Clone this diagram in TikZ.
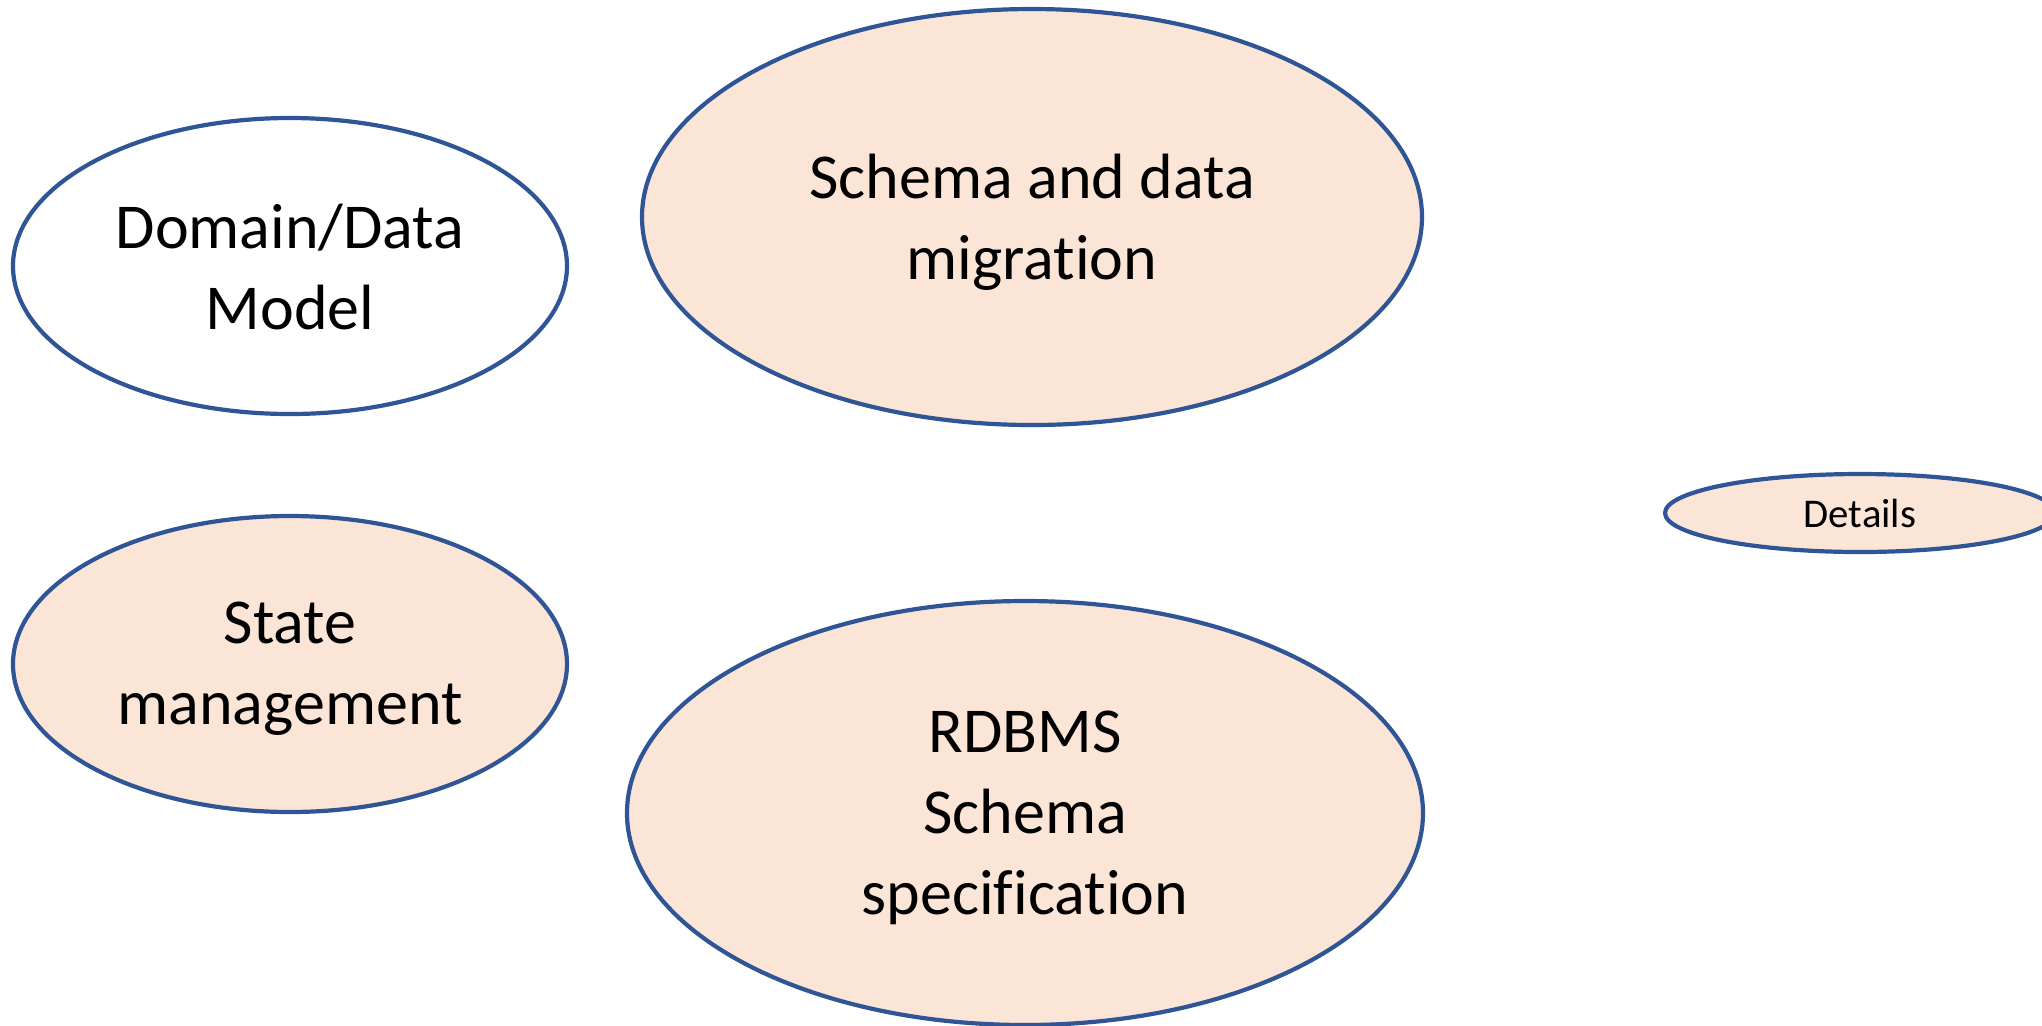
\documentclass[tikz,border=0pt]{standalone}
\usepackage{fontspec}
\setmainfont[Ligatures={NoCommon,NoContextual}]{Carlito}
\usetikzlibrary{shapes.geometric}
\definecolor{rimblue}{HTML}{2F5597}
\definecolor{peach}{HTML}{FBE5D6}
\tikzset{
  bubble/.style={ellipse, draw=rimblue, line width=2.1pt, inner sep=0pt},
  warm/.style={bubble, fill=peach},
  plain/.style={bubble, fill=white},
  caption/.style={align=center, inner sep=0pt, text=black,
    font=\fontsize{32}{40.5}\selectfont, yshift=-2.5pt},
}
\begin{document}
\begin{tikzpicture}[x=0.5pt, y=-0.5pt]
  \useasboundingbox (0,0) rectangle (2042,1025);
  \clip (0,0) rectangle (2042,1025);
  \fill[white] (0,0) rectangle (2042,1025);

  % outlines
  \node[plain, minimum width=277pt, minimum height=148pt] (domain) at (290,266) {};
  \node[warm, minimum width=390pt, minimum height=208pt] (migration) at (1032,217) {};
  \node[warm, minimum width=277pt, minimum height=148pt] (state) at (290,664) {};
  \node[warm, minimum width=398pt, minimum height=212pt] (rdbms) at (1025,813) {};
  \node[warm, minimum width=195pt, minimum height=39pt] (details) at (1860,513) {};

  % captions
  \node[caption, yshift=2pt] (domaintext) at (domain.center) {Domain/Data\\Model};
  \node[caption] (migrationtext) at (migration.center) {Schema and data\\migration};
  \node[caption] (statetext) at (state.center) {State\\management};
  \node[caption] (rdbmstext) at (rdbms.center) {RDBMS\\Schema\\specification};
  \node[inner sep=0pt, font=\fontsize{20.4}{24}\selectfont] (detailstext)
    at (details.center) {Details};
\end{tikzpicture}
\end{document}
